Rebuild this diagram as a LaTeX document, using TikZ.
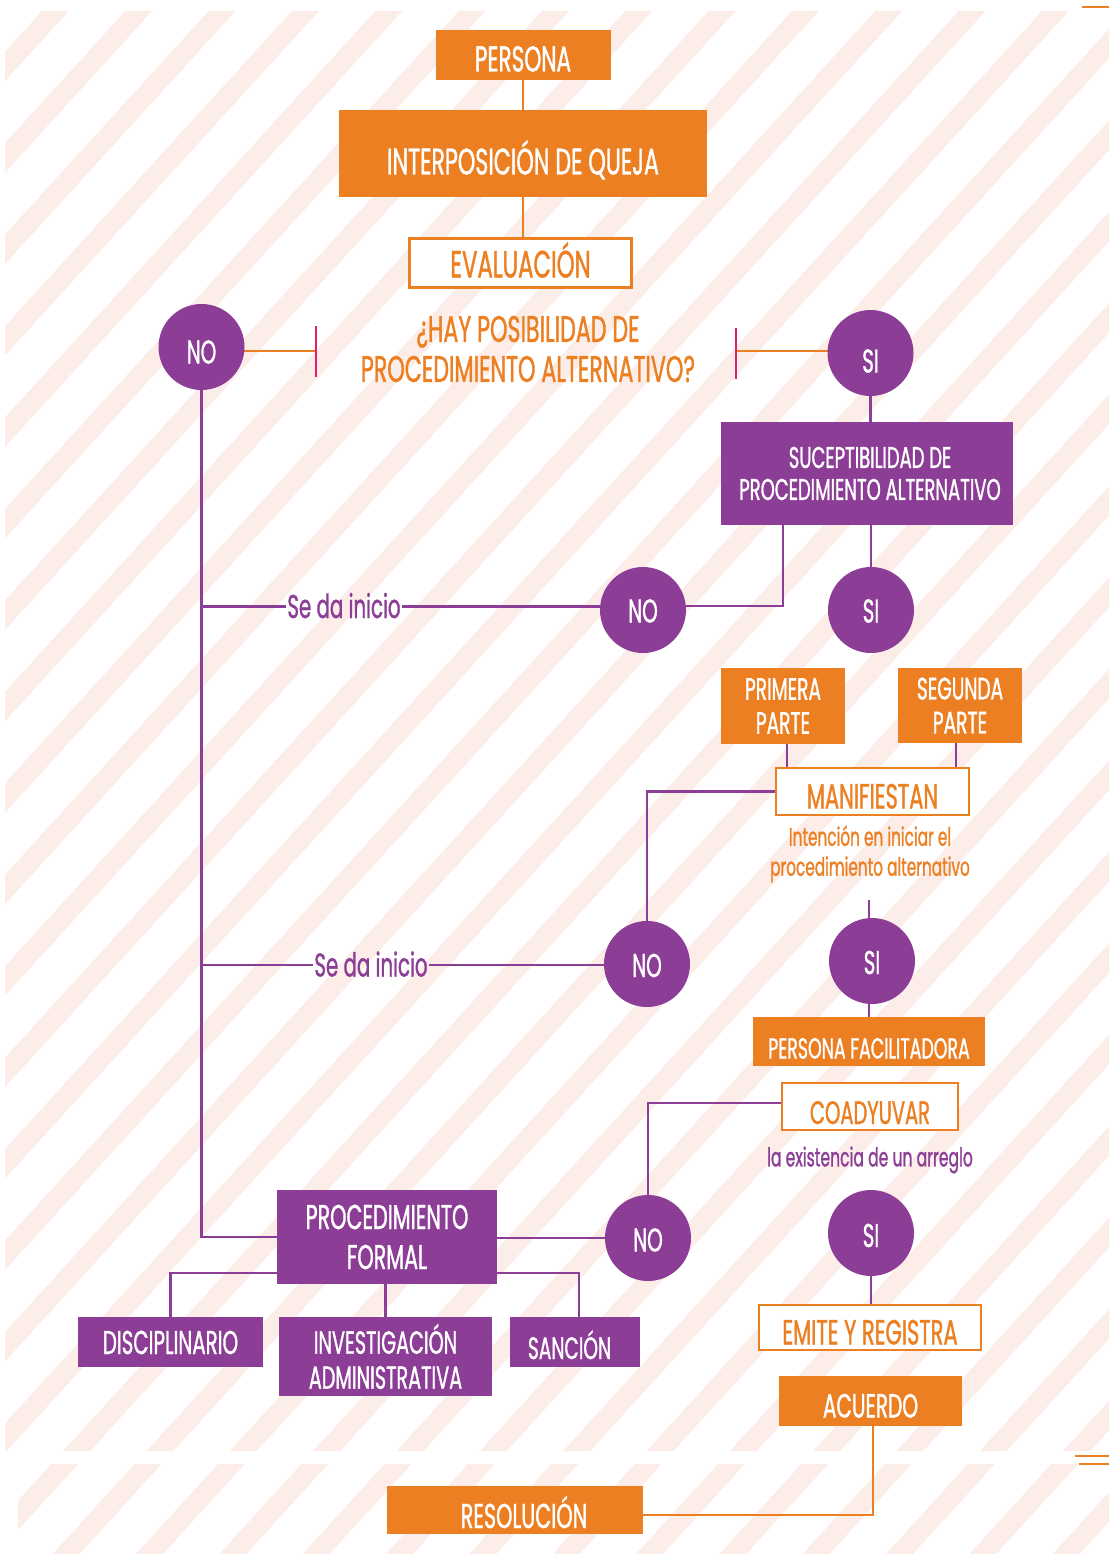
\documentclass[tikz,border=0pt]{standalone}
\usepackage{fontspec}
\setmainfont{Poppins}[FakeStretch=0.6, FakeBold=1]
\usetikzlibrary{calc}
\definecolor{org}{RGB}{237,127,35}
\definecolor{pur}{RGB}{140,61,150}
\definecolor{mag}{RGB}{228,28,112}
\definecolor{stripe}{RGB}{253,237,233}
\newcommand\fsz[1]{\fontsize{#1}{#1}\selectfont}
\newcommand\fszb[2]{\fontsize{#1}{#2}\selectfont}
\pgfdeclarelayer{bg}
\pgfdeclarelayer{lines}
\pgfsetlayers{bg,lines,main}
\begin{document}
\begin{tikzpicture}[x=1pt,y=-1pt,
  ofill/.style={rectangle, fill=org, text=white, inner sep=0pt, align=center},
  pfill/.style={rectangle, fill=pur, text=white, inner sep=0pt, align=center},
  obox/.style={rectangle, draw=org, line width=2.5pt, fill=white, text=org, inner sep=0pt, align=center},
  capc/.style={text height=#1, text depth=0pt},
  circ/.style={circle, fill=pur, text=white, minimum size=86pt, inner sep=0pt, font=\fsz{33}, text height=#1, text depth=0pt},
  circ/.default=24pt,
  oline/.style={draw=org, line width=2.2pt},
  pline/.style={draw=pur, line width=2.2pt},
  lab/.style={text=pur, inner sep=1pt, text height=23pt, text depth=0pt}]
\useasboundingbox (0,0) rectangle (1109,1554);
% background stripes
\begin{pgfonlayer}{bg}
\begin{scope}
\clip (5,11) rectangle (1109,1451) (18,1464) rectangle (1109,1554);
\foreach \k in {-1,...,31}{
  \pgfmathsetmacro\ca{52+83.33*\k}
  \fill[stripe] (\ca,0) -- ++(27,0) -- ++(-1416,1554) -- ++(-27,0) -- cycle;
}
\end{scope}
\end{pgfonlayer}
% decorative marks
\draw[org, line width=2pt] (1082,7) -- (1109,7);
\draw[org, line width=2pt] (1075,1456) -- (1109,1456);
\draw[org, line width=2pt] (1079,1464) -- (1109,1464);

% nodes
\node[ofill, capc=33pt, minimum width=175pt, minimum height=50pt, font=\fsz{36}] (persona) at (523,55) {PERSONA};
\node[ofill, capc=42pt, minimum width=368pt, minimum height=87pt, font=\fsz{37}] (queja) at (523,153.5) {INTERPOSICIÓN DE QUEJA};
\node[obox, capc=29pt, minimum width=222pt, minimum height=49pt, font=\fsz{38}] (evalua) at (520.5,263) {EVALUACIÓN};
\node[text=org, align=center, inner sep=0pt, font=\fszb{37}{40}] (pregunta) at (528,349) {¿HAY POSIBILIDAD DE\\PROCEDIMIENTO ALTERNATIVO?};
\node[circ=33pt] (noA) at (201.5,347) {NO};
\node[circ=39pt] (siA) at (870.5,353) {SI};
\coordinate (tickL) at (316,351);
\coordinate (tickR) at (736,351);
\node[pfill, minimum width=292pt, minimum height=103pt, font=\fszb{30}{32}] (susc) at (867,473.5) {\hspace*{6pt}SUCEPTIBILIDAD DE\\\hspace*{6pt}PROCEDIMIENTO ALTERNATIVO};
\node[circ=25pt] (siB) at (871,610) {SI};
\node[circ=25pt] (noB) at (643,610) {NO};
\node[lab, font=\fsz{33}] (lab1) at (344,606.5) {Se da inicio};
\node[ofill, minimum width=124pt, minimum height=76pt, font=\fszb{31}{34}] (primera) at (783,706) {PRIMERA\\PARTE};
\node[ofill, minimum width=124pt, minimum height=75pt, font=\fszb{31}{34}] (segunda) at (960,705.5) {SEGUNDA\\PARTE};
\node[obox, capc=34pt, minimum width=193pt, minimum height=47pt, font=\fsz{35}] (manif) at (872.5,791.5) {MANIFIESTAN};
\node[text=org, align=center, inner sep=0pt, font=\fszb{25.5}{30}] (intencion) at (870,854) {Intención en iniciar el\\procedimiento alternativo};
\node[circ=26pt] (noC) at (647,964) {NO};
\node[circ=26pt] (siC) at (872,961) {SI};
\node[lab, font=\fsz{33}] (lab2) at (371,965) {Se da inicio};
\node[ofill, capc=34pt, minimum width=232pt, minimum height=49pt, font=\fsz{29}] (facil) at (869,1041.5) {PERSONA FACILITADORA};
\node[obox, capc=35pt, minimum width=176pt, minimum height=47pt, font=\fsz{32.5}] (coad) at (870,1106.5) {COADYUVAR};
\node[text=pur, inner sep=0pt, font=\fsz{26}] (arreglo) at (870,1160) {la existencia de un arreglo};
\node[circ=27pt] (noD) at (648,1238) {NO};
\node[circ=28pt] (siD) at (871,1233) {SI};
\node[obox, capc=34pt, minimum width=222pt, minimum height=45pt, font=\fsz{35}] (emite) at (870,1327.5) {EMITE Y REGISTRA};
\node[ofill, capc=33pt, minimum width=183pt, minimum height=50pt, font=\fsz{33.5}] (acuerdo) at (870.5,1401) {ACUERDO};
\node[ofill, capc=36pt, minimum width=256pt, minimum height=48pt, font=\fsz{34.5}] (resol) at (515,1510) {\hspace*{18pt}RESOLUCIÓN};
\node[pfill, minimum width=220pt, minimum height=94pt, font=\fszb{34.5}{38}] (proc) at (387,1237) {PROCEDIMIENTO\\[2pt]FORMAL};
\node[pfill, capc=24pt, minimum width=185pt, minimum height=50pt, font=\fsz{33}] (disc) at (170.5,1342) {DISCIPLINARIO};
\node[pfill, minimum width=213pt, minimum height=79pt, font=\fszb{32}{35}] (inv) at (385.5,1356.5) {INVESTIGACIÓN\\ADMINISTRATIVA};
\node[pfill, capc=34pt, minimum width=130pt, minimum height=50pt, font=\fsz{31}] (sanc) at (575,1342) {SANCIÓN\hspace*{11pt}};

% connectors
\begin{pgfonlayer}{lines}
\draw[oline] (persona.south) -- (persona.south |- queja.north);
\draw[oline] (queja.south) -- (queja.south |- evalua.north);
\draw[oline] (noA.center |- tickL) -- (tickL);
\draw[oline] (siA.center |- tickR) -- (tickR);
\draw[mag, line width=2pt] ($(tickL)+(0,-25)$) -- ($(tickL)+(0,26)$);
\draw[mag, line width=2pt] ($(tickR)+(0,-23)$) -- ($(tickR)+(0,28)$);
\draw[pline] (siA.south) -- (siA.south |- susc.north);
\draw[pline] (siB.north) -- (siB.north |- susc.south);
\coordinate (sb) at ($(susc.south west)+(62,0)$);
\draw[pline] (sb) |- ($(noB.center)+(0,-4)$);
\draw[pline] (lab1.east) -- (lab1.east -| noB.center);
\draw[pline] (lab1.west) -- (lab1.west -| noA.center);
\draw[pline] (noA.center) |- (proc.west);
\coordinate (p1) at ($(primera.south)+(4,0)$);
\coordinate (p2) at ($(segunda.south)+(-4,0)$);
\draw[pline] (p1) -- (p1 |- manif.north);
\draw[pline] (p2) -- (p2 |- manif.north);
\draw[pline] (manif.west) -| (noC.north);
\draw[pline] (lab2.east) -- (lab2.east -| noC.center);
\draw[pline] (lab2.west) -- (lab2.west -| noA.center);
\coordinate (c1) at (869,900);
\draw[pline] (c1) -- (c1 |- siC.north);
\draw[pline] (c1 |- siC.south) -- (c1 |- facil.north);
\draw[pline] ($(coad.west)+(0,-3.5)$) -| (noD.north);
\draw[pline] (noD.center) -- (noD.center -| proc.east);
\draw[pline] (siD.south) -- (siD.south |- emite.north);
\coordinate (a1) at ($(acuerdo.south)+(2.5,0)$);
\draw[oline] (a1) |- ($(resol.east)+(0,5)$);
\draw[pline] ($(proc.west)+(0,36)$) -| (disc.north);
\draw[pline] ($(proc.east)+(0,36)$) -| ($(sanc.north)+(4,0)$);
\draw[pline] (inv.north |- proc.south) -- (inv.north);
\end{pgfonlayer}
\end{tikzpicture}
\end{document}
